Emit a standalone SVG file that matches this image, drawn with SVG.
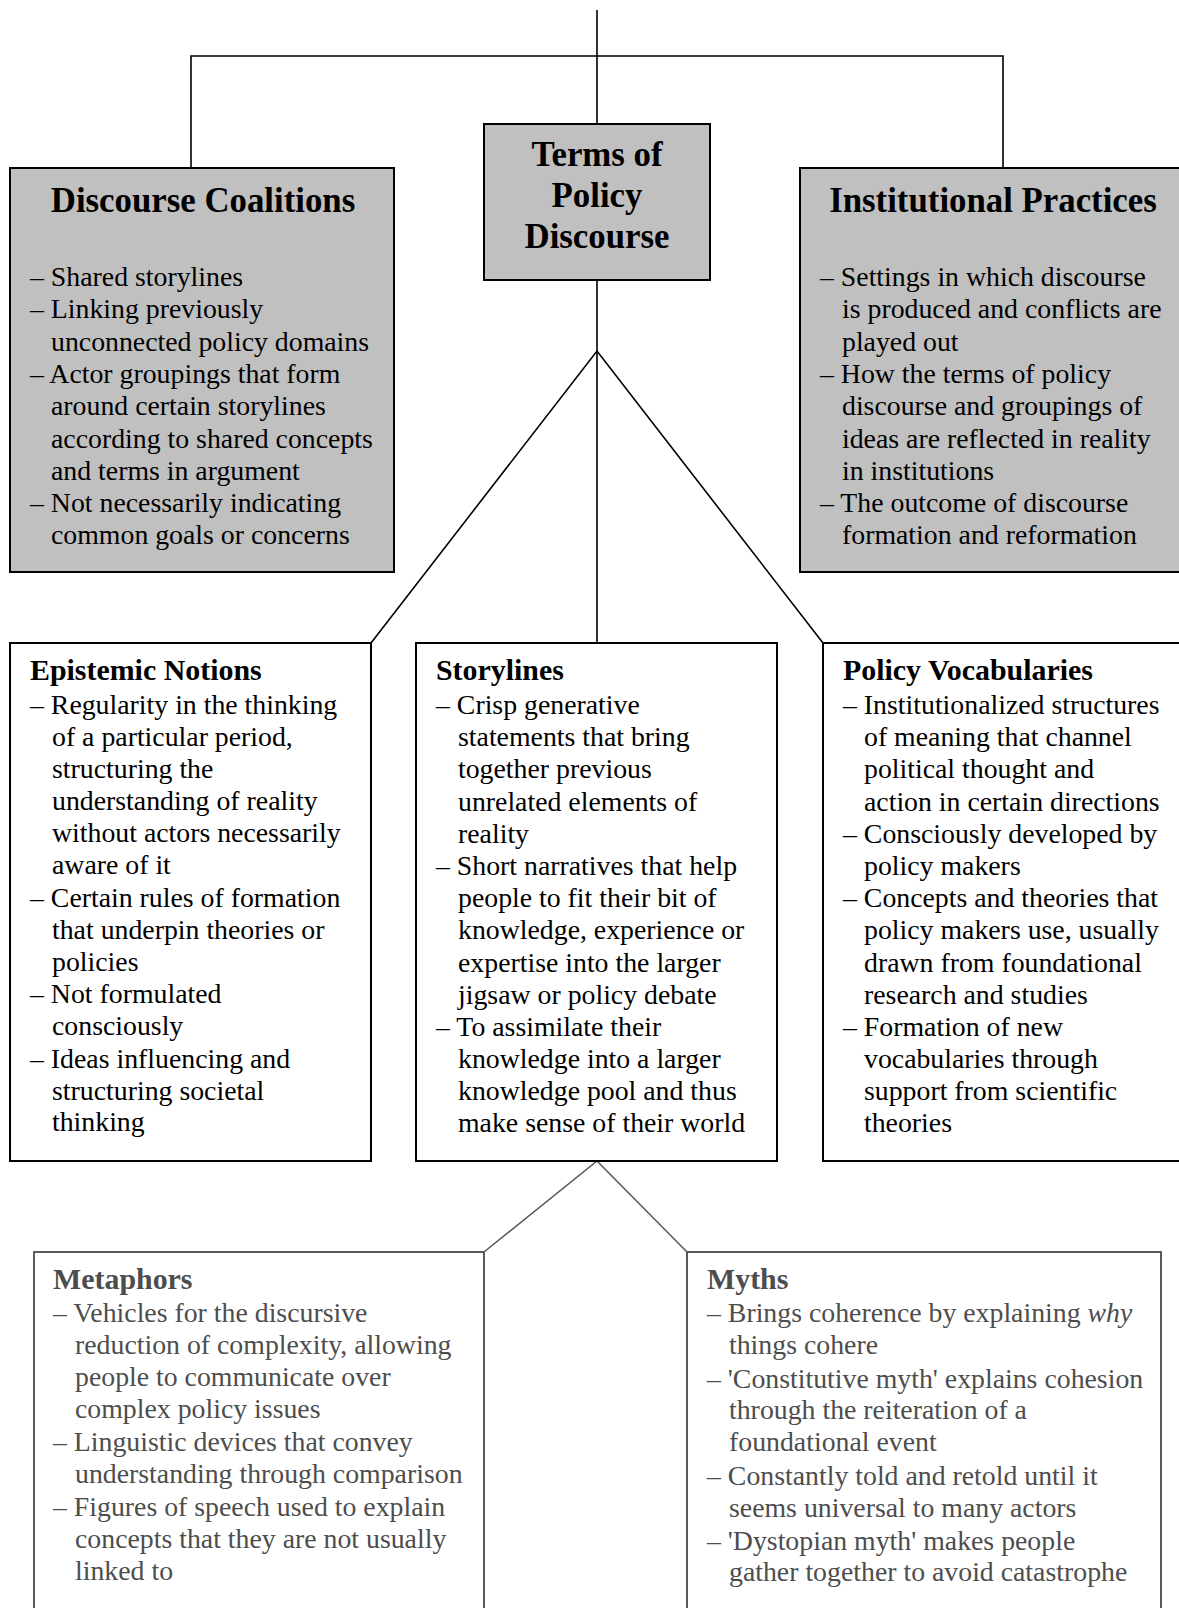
<svg xmlns="http://www.w3.org/2000/svg" width="1179" height="1608" viewBox="0 0 1179 1608">
<style>
text{font-family:"Liberation Serif","Times New Roman",serif;fill:#000}
.title{font-size:34.8px;font-weight:bold;text-anchor:middle}
.hd{font-size:29.9px;font-weight:bold}
.bd{font-size:27.8px}
.gray text{fill:#4d4d4d}
.box{fill:#c0c0c0;stroke:#000;stroke-width:2}
.wbox{fill:#fff;stroke:#000;stroke-width:2}
.gbox{fill:#fff;stroke:#5a5a5a;stroke-width:2}
.con{fill:none;stroke:#000;stroke-width:1.6}
.gcon{fill:none;stroke:#5a5a5a;stroke-width:1.6}
</style>
<rect width="1179" height="1608" fill="#fff"/>
<g id="connectors">
<path class="con" d="M597,10 V124"/>
<path class="con" d="M191,168 V56 H1003 V168"/>
<path class="con" d="M597,280 V643"/>
<path class="con" d="M371,643 L597,351 L823,643"/>
<path class="gcon" d="M484,1252 L597,1161 L687,1252"/>
</g>
<g id="terms">
<rect class="box" x="484" y="124" width="226" height="156"/>
<text class="title" x="597" y="166">Terms of</text>
<text class="title" x="597" y="207">Policy</text>
<text class="title" x="597" y="248">Discourse</text>
</g>
<g id="discourse-coalitions">
<rect class="box" x="10" y="168" width="384" height="404"/>
<text class="title" x="203" y="212">Discourse Coalitions</text>
<text class="bd" x="30" y="286">– Shared storylines</text>
<text class="bd" x="30" y="318.3">– Linking previously</text>
<text class="bd" x="51" y="350.6">unconnected policy domains</text>
<text class="bd" x="30" y="382.9">– Actor groupings that form</text>
<text class="bd" x="51" y="415.2">around certain storylines</text>
<text class="bd" x="51" y="447.5">according to shared concepts</text>
<text class="bd" x="51" y="479.8">and terms in argument</text>
<text class="bd" x="30" y="512.1">– Not necessarily indicating</text>
<text class="bd" x="51" y="544.4">common goals or concerns</text>
</g>
<g id="institutional-practices">
<rect class="box" x="800" y="168" width="386" height="404"/>
<text class="title" x="993" y="212">Institutional Practices</text>
<text class="bd" x="820" y="286">– Settings in which discourse</text>
<text class="bd" x="842" y="318.3">is produced and conflicts are</text>
<text class="bd" x="842" y="350.6">played out</text>
<text class="bd" x="820" y="382.9">– How the terms of policy</text>
<text class="bd" x="842" y="415.2">discourse and groupings of</text>
<text class="bd" x="842" y="447.5">ideas are reflected in reality</text>
<text class="bd" x="842" y="479.8">in institutions</text>
<text class="bd" x="820" y="512.1">– The outcome of discourse</text>
<text class="bd" x="842" y="544.4">formation and reformation</text>
</g>
<g id="epistemic-notions">
<rect class="wbox" x="10" y="643" width="361" height="518"/>
<text class="hd" x="30" y="680">Epistemic Notions</text>
<text class="bd" x="30" y="714">– Regularity in the thinking</text>
<text class="bd" x="52" y="746">of a particular period,</text>
<text class="bd" x="52" y="778">structuring the</text>
<text class="bd" x="52" y="810">understanding of reality</text>
<text class="bd" x="52" y="842">without actors necessarily</text>
<text class="bd" x="52" y="874">aware of it</text>
<text class="bd" x="30" y="907">– Certain rules of formation</text>
<text class="bd" x="52" y="939">that underpin theories or</text>
<text class="bd" x="52" y="971">policies</text>
<text class="bd" x="30" y="1003">– Not formulated</text>
<text class="bd" x="52" y="1035">consciously</text>
<text class="bd" x="30" y="1068">– Ideas influencing and</text>
<text class="bd" x="52" y="1100">structuring societal</text>
<text class="bd" x="52" y="1131">thinking</text>
</g>
<g id="storylines">
<rect class="wbox" x="416" y="643" width="361" height="518"/>
<text class="hd" x="436" y="680">Storylines</text>
<text class="bd" x="436" y="714">– Crisp generative</text>
<text class="bd" x="458" y="746.2">statements that bring</text>
<text class="bd" x="458" y="778.4">together previous</text>
<text class="bd" x="458" y="810.6">unrelated elements of</text>
<text class="bd" x="458" y="842.8">reality</text>
<text class="bd" x="436" y="875">– Short narratives that help</text>
<text class="bd" x="458" y="907.2">people to fit their bit of</text>
<text class="bd" x="458" y="939.4">knowledge, experience or</text>
<text class="bd" x="458" y="971.6">expertise into the larger</text>
<text class="bd" x="458" y="1003.8">jigsaw or policy debate</text>
<text class="bd" x="436" y="1036">– To assimilate their</text>
<text class="bd" x="458" y="1068.2">knowledge into a larger</text>
<text class="bd" x="458" y="1100.4">knowledge pool and thus</text>
<text class="bd" x="458" y="1132">make sense of their world</text>
</g>
<g id="policy-vocabularies">
<rect class="wbox" x="823" y="643" width="364" height="518"/>
<text class="hd" x="843" y="680">Policy Vocabularies</text>
<text class="bd" x="843" y="714">– Institutionalized structures</text>
<text class="bd" x="864" y="746.2">of meaning that channel</text>
<text class="bd" x="864" y="778.4">political thought and</text>
<text class="bd" x="864" y="810.6">action in certain directions</text>
<text class="bd" x="843" y="842.8">– Consciously developed by</text>
<text class="bd" x="864" y="875">policy makers</text>
<text class="bd" x="843" y="907.2">– Concepts and theories that</text>
<text class="bd" x="864" y="939.4">policy makers use, usually</text>
<text class="bd" x="864" y="971.6">drawn from foundational</text>
<text class="bd" x="864" y="1003.8">research and studies</text>
<text class="bd" x="843" y="1036">– Formation of new</text>
<text class="bd" x="864" y="1068.2">vocabularies through</text>
<text class="bd" x="864" y="1100.4">support from scientific</text>
<text class="bd" x="864" y="1132">theories</text>
</g>
<g id="metaphors" class="gray">
<rect class="gbox" x="34" y="1252" width="450" height="380"/>
<text class="hd" x="53" y="1289">Metaphors</text>
<text class="bd" x="53" y="1322">– Vehicles for the discursive</text>
<text class="bd" x="75" y="1354">reduction of complexity, allowing</text>
<text class="bd" x="75" y="1386">people to communicate over</text>
<text class="bd" x="75" y="1418">complex policy issues</text>
<text class="bd" x="53" y="1451">– Linguistic devices that convey</text>
<text class="bd" x="75" y="1483">understanding through comparison</text>
<text class="bd" x="53" y="1516">– Figures of speech used to explain</text>
<text class="bd" x="75" y="1548">concepts that they are not usually</text>
<text class="bd" x="75" y="1580">linked to</text>
</g>
<g id="myths" class="gray">
<rect class="gbox" x="687" y="1252" width="474" height="380"/>
<text class="hd" x="707" y="1289">Myths</text>
<text class="bd" x="707" y="1322">– Brings coherence by explaining <tspan font-style="italic">why</tspan></text>
<text class="bd" x="729" y="1354">things cohere</text>
<text class="bd" x="707" y="1388">– 'Constitutive myth' explains cohesion</text>
<text class="bd" x="729" y="1419">through the reiteration of a</text>
<text class="bd" x="729" y="1451">foundational event</text>
<text class="bd" x="707" y="1485">– Constantly told and retold until it</text>
<text class="bd" x="729" y="1517">seems universal to many actors</text>
<text class="bd" x="707" y="1550">– 'Dystopian myth' makes people</text>
<text class="bd" x="729" y="1581">gather together to avoid catastrophe</text>
</g>
</svg>
